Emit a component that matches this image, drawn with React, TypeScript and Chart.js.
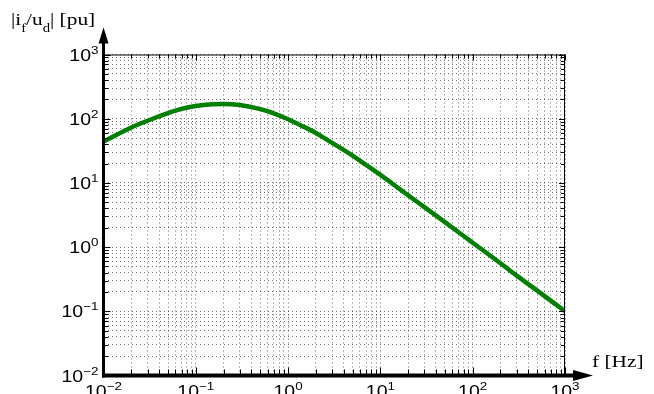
import { useEffect, useRef } from "react";
import { Chart, registerables } from "chart.js";

Chart.register(...registerables);

// Frequency response magnitude |i_f/u_d| in per-unit
const freqHz = [
  0.01, 0.02, 0.03, 0.05, 0.07, 0.1, 0.15, 0.2, 0.3, 0.5, 0.7, 1, 1.5, 2, 3,
  5, 7, 10, 20, 30, 50, 100, 200, 300, 500, 1000,
];
const magnitudePu = [
  44, 73, 93, 122, 142, 158, 168, 170, 163, 141, 121, 98, 74, 60, 42, 26.5,
  19, 13.3, 6.4, 4.2, 2.45, 1.17, 0.56, 0.36, 0.21, 0.1,
];

// Decade exponents shown on each axis
const xDecades = [-2, -1, 0, 1, 2, 3];
const yDecades = [-2, -1, 0, 1, 2, 3];
const multiples = [1, 2, 3, 4, 5, 6, 7, 8, 9];

const yTitleParts = ["|i", "f", "/u", "d", "| [pu]"];
const xTitle = "f [Hz]";

function logGrid(decades: number[]): number[] {
  const out: number[] = [];
  for (let i = 0; i < decades.length - 1; i++) {
    for (const m of multiples) out.push(+(m * Math.pow(10, decades[i])).toPrecision(6));
  }
  out.push(Math.pow(10, decades[decades.length - 1]));
  return out;
}

const xGrid = logGrid(xDecades);
const yGrid = logGrid(yDecades);

const isDecade = (v: number) => Math.abs(Math.log10(v) - Math.round(Math.log10(v))) < 1e-9;

const SANS = '"Liberation Sans", Arimo, Arial, Helvetica, sans-serif';
const SERIF = '"Liberation Serif", Tinos, "Times New Roman", Times, serif';
const STRETCH = 1.22;

type Run = { text: string; size: number; dy: number };

function runsWidth(ctx: CanvasRenderingContext2D, runs: Run[], family: string, sx: number) {
  let w = 0;
  for (const r of runs) {
    ctx.font = `${r.size}px ${family}`;
    w += ctx.measureText(r.text).width * sx;
  }
  return w;
}

function drawRuns(
  ctx: CanvasRenderingContext2D,
  runs: Run[],
  x: number,
  y: number,
  family: string,
  sx: number
) {
  let cx = x;
  for (const r of runs) {
    ctx.font = `${r.size}px ${family}`;
    ctx.save();
    ctx.translate(cx, y + r.dy);
    ctx.scale(sx, 1);
    ctx.textAlign = "left";
    ctx.textBaseline = "alphabetic";
    ctx.fillText(r.text, 0, 0);
    ctx.restore();
    cx += ctx.measureText(r.text).width * sx;
  }
}

function powerRuns(exp: number): Run[] {
  const e = exp < 0 ? "\u2212" + Math.abs(exp) : String(exp);
  return [
    { text: "10", size: 16, dy: 0 },
    { text: e, size: 11, dy: -7 },
  ];
}

const axesPlugin = {
  id: "bodeAxes",
  afterDraw(chart: Chart) {
    const { ctx, chartArea: a } = chart;
    const xs = chart.scales.x;
    const ys = chart.scales.y;
    ctx.save();
    ctx.fillStyle = "#000";
    ctx.strokeStyle = "#000";

    // thin frame on top and right
    ctx.lineWidth = 1;
    ctx.beginPath();
    ctx.moveTo(a.left, a.top + 0.5);
    ctx.lineTo(a.right, a.top + 0.5);
    ctx.moveTo(a.right - 0.5, a.top);
    ctx.lineTo(a.right - 0.5, a.bottom);
    ctx.stroke();

    // inward tick marks on all four sides
    ctx.beginPath();
    for (const v of xGrid) {
      const px = Math.round(xs.getPixelForValue(v)) + 0.5;
      const len = isDecade(v) ? 6 : 4;
      ctx.moveTo(px, a.top);
      ctx.lineTo(px, a.top + len);
      ctx.moveTo(px, a.bottom);
      ctx.lineTo(px, a.bottom - len - 2);
    }
    for (const v of yGrid) {
      const py = Math.round(ys.getPixelForValue(v)) + 0.5;
      const len = isDecade(v) ? 6 : 4;
      ctx.moveTo(a.left, py);
      ctx.lineTo(a.left + len + 1, py);
      ctx.moveTo(a.right, py);
      ctx.lineTo(a.right - len, py);
    }
    ctx.stroke();

    // heavy left and bottom axes with arrowheads
    ctx.lineWidth = 3;
    ctx.beginPath();
    ctx.moveTo(a.left, a.bottom + 2);
    ctx.lineTo(a.left, a.top - 12);
    ctx.stroke();
    ctx.lineWidth = 4;
    ctx.beginPath();
    ctx.moveTo(a.left - 1.5, a.bottom);
    ctx.lineTo(a.right + 10, a.bottom);
    ctx.stroke();

    ctx.beginPath();
    ctx.moveTo(a.left - 5, a.top - 11);
    ctx.lineTo(a.left + 5, a.top - 11);
    ctx.lineTo(a.left, a.top - 27);
    ctx.closePath();
    ctx.fill();

    ctx.beginPath();
    ctx.moveTo(a.right + 8, a.bottom - 5.5);
    ctx.lineTo(a.right + 8, a.bottom + 5.5);
    ctx.lineTo(a.right + 28, a.bottom);
    ctx.closePath();
    ctx.fill();

    // decade labels
    for (const d of yDecades) {
      const py = ys.getPixelForValue(Math.pow(10, d));
      const runs = powerRuns(d);
      const w = runsWidth(ctx, runs, SANS, STRETCH);
      drawRuns(ctx, runs, a.left - 5 - w, py + 6, SANS, STRETCH);
    }
    for (const d of xDecades) {
      const px = xs.getPixelForValue(Math.pow(10, d));
      const runs = powerRuns(d);
      const w = runsWidth(ctx, runs, SANS, STRETCH);
      drawRuns(ctx, runs, px - w / 2, a.bottom + 21, SANS, STRETCH);
    }

    // axis titles
    const yTitle: Run[] = yTitleParts.map((t, i) => ({
      text: t,
      size: i % 2 === 1 ? 12 : 17.5,
      dy: i % 2 === 1 ? 7 : 0,
    }));
    drawRuns(ctx, yTitle, 11, 25, SERIF, STRETCH);
    drawRuns(ctx, [{ text: xTitle, size: 17.5, dy: 0 }], 592, 367, SERIF, STRETCH);

    ctx.restore();
  },
};

const GRID_COLOR = "rgba(0,0,0,0.55)";

export default function App() {
  const ref = useRef<HTMLCanvasElement>(null);

  useEffect(() => {
    document.body.style.margin = "0";
    const canvas = ref.current;
    if (!canvas) return;
    const chart = new Chart(canvas, {
      type: "line",
      data: {
        datasets: [
          {
            data: freqHz.map((f, i) => ({ x: f, y: magnitudePu[i] })),
            borderColor: "#008000",
            borderWidth: 4.5,
            pointRadius: 0,
            fill: false,
            cubicInterpolationMode: "monotone",
          },
        ],
      },
      options: {
        responsive: false,
        animation: false,
        devicePixelRatio: 1,
        layout: { padding: { left: 103.5, top: 54.5, right: 89, bottom: 18.5 } },
        plugins: {
          legend: { display: false },
          tooltip: { enabled: false },
          title: { display: false },
        },
        scales: {
          x: {
            type: "logarithmic",
            min: 0.01,
            max: 1000,
            afterBuildTicks: (s: any) => {
              s.ticks = xGrid.map((v) => ({ value: v }));
            },
            ticks: { display: false },
            grid: { color: GRID_COLOR, lineWidth: 1, drawTicks: false },
            border: { display: false, dash: [1, 3] },
          },
          y: {
            type: "logarithmic",
            min: 0.01,
            max: 1000,
            afterBuildTicks: (s: any) => {
              s.ticks = yGrid.map((v) => ({ value: v }));
            },
            ticks: { display: false },
            grid: { color: GRID_COLOR, lineWidth: 1, drawTicks: false },
            border: { display: false, dash: [1, 3] },
          },
        },
      },
      plugins: [axesPlugin],
    });

    // redraw once the named fonts are ready
    let alive = true;
    Promise.all([
      document.fonts.load('17px "Liberation Serif"'),
      document.fonts.load('16px "Liberation Sans"'),
    ])
      .catch(() => undefined)
      .then(() => {
        if (alive) chart.draw();
      });

    return () => {
      alive = false;
      chart.destroy();
    };
  }, []);

  return (
    <div style={{ position: "absolute", left: 0, top: 0, width: 654, height: 394, background: "#fff" }}>
      <canvas ref={ref} width={654} height={394} style={{ display: "block" }} />
    </div>
  );
}
